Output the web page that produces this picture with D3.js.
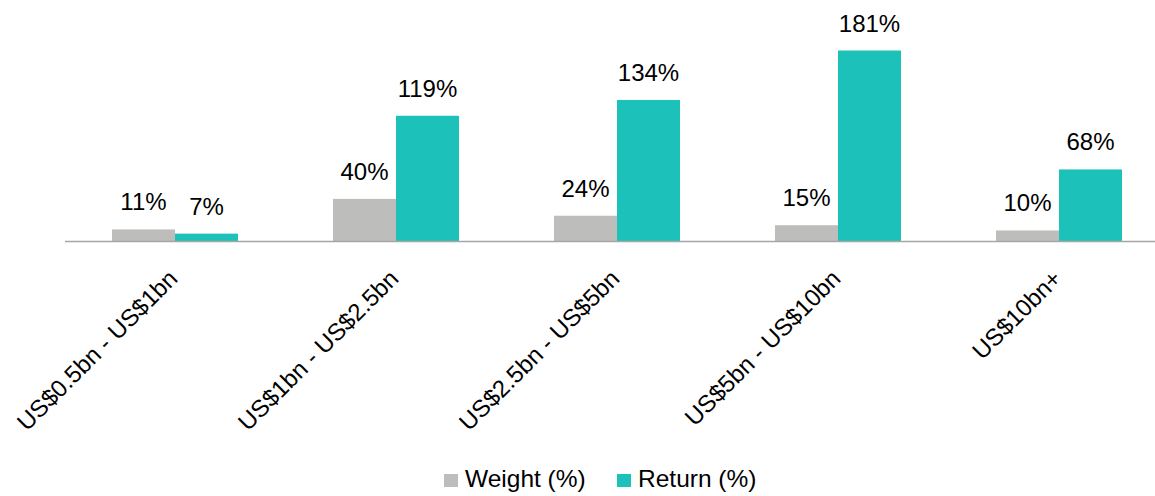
<!DOCTYPE html>
<html>
<head>
<meta charset="utf-8">
<script src="https://cdn.jsdelivr.net/npm/d3@7"></script>
<style>
  html, body { margin: 0; padding: 0; background: #ffffff; }
  svg { display: block; }
  text { font-family: "Liberation Sans", Arial, sans-serif; fill: #000; }
</style>
</head>
<body>
<svg id="chart" width="1155" height="496"></svg>
<script>
// Market-cap buckets
const categories = ["US$0.5bn - US$1bn", "US$1bn - US$2.5bn", "US$2.5bn - US$5bn", "US$5bn - US$10bn", "US$10bn+"];
// Series values (%)
const weight = [11, 40, 24, 15, 10];
const returns = [7, 119, 134, 181, 68];
const seriesNames = ["Weight (%)", "Return (%)"];
const seriesColors = ["#bdbebb", "#1cc2b9"];

const rows = categories.map((c, i) => ({ category: c, values: [weight[i], returns[i]] }));

const svg = d3.select("#chart");
const baseY = 241;

const x0 = d3.scaleBand()
  .domain(categories)
  .range([64.5, 1169.5])
  .paddingInner(0.43)
  .paddingOuter(0.215);

const x1 = d3.scaleBand()
  .domain(d3.range(seriesNames.length))
  .range([0, x0.bandwidth()]);

const y = d3.scaleLinear().domain([0, 229]).range([baseY, 0]);

// Bars
const groups = svg.append("g").selectAll("g")
  .data(rows)
  .join("g")
  .attr("transform", d => `translate(${x0(d.category)},0)`);

groups.selectAll("rect")
  .data(d => d.values.map((v, k) => ({ v, k })))
  .join("rect")
  .attr("x", d => x1(d.k))
  .attr("width", x1.bandwidth())
  .attr("y", d => y(d.v))
  .attr("height", d => y(0) - y(d.v))
  .attr("fill", d => seriesColors[d.k]);

// Value labels
groups.selectAll("text.val")
  .data(d => d.values.map((v, k) => ({ v, k })))
  .join("text")
  .attr("class", "val")
  .attr("x", d => x1(d.k) + x1.bandwidth() / 2)
  .attr("y", d => y(d.v) - 19)
  .attr("text-anchor", "middle")
  .attr("font-size", 24)
  .text(d => d.v + "%");

// Category axis
const xAxis = svg.append("g")
  .attr("transform", `translate(0,${baseY})`)
  .call(d3.axisBottom(x0).tickSize(0).tickPadding(0));
xAxis.select(".domain").attr("stroke", "#a6a6a6").attr("stroke-width", 1.5);
xAxis.selectAll(".tick text")
  .attr("font-family", "'Liberation Sans', Arial, sans-serif")
  .attr("font-size", 24)
  .attr("fill", "#000")
  .attr("text-anchor", "end")
  .attr("dy", null)
  .attr("y", 0)
  .attr("transform", "translate(4,39) rotate(-45)");

// Legend
const legend = svg.append("g").attr("transform", "translate(444,487)");
const legendX = [0, 173];
seriesNames.forEach((name, k) => {
  const g = legend.append("g").attr("transform", `translate(${legendX[k]},0)`);
  g.append("rect").attr("x", 0).attr("y", -13).attr("width", 14).attr("height", 13).attr("fill", seriesColors[k]);
  g.append("text").attr("x", 21).attr("y", 0).attr("font-size", 24.5).text(name);
});
</script>
</body>
</html>
